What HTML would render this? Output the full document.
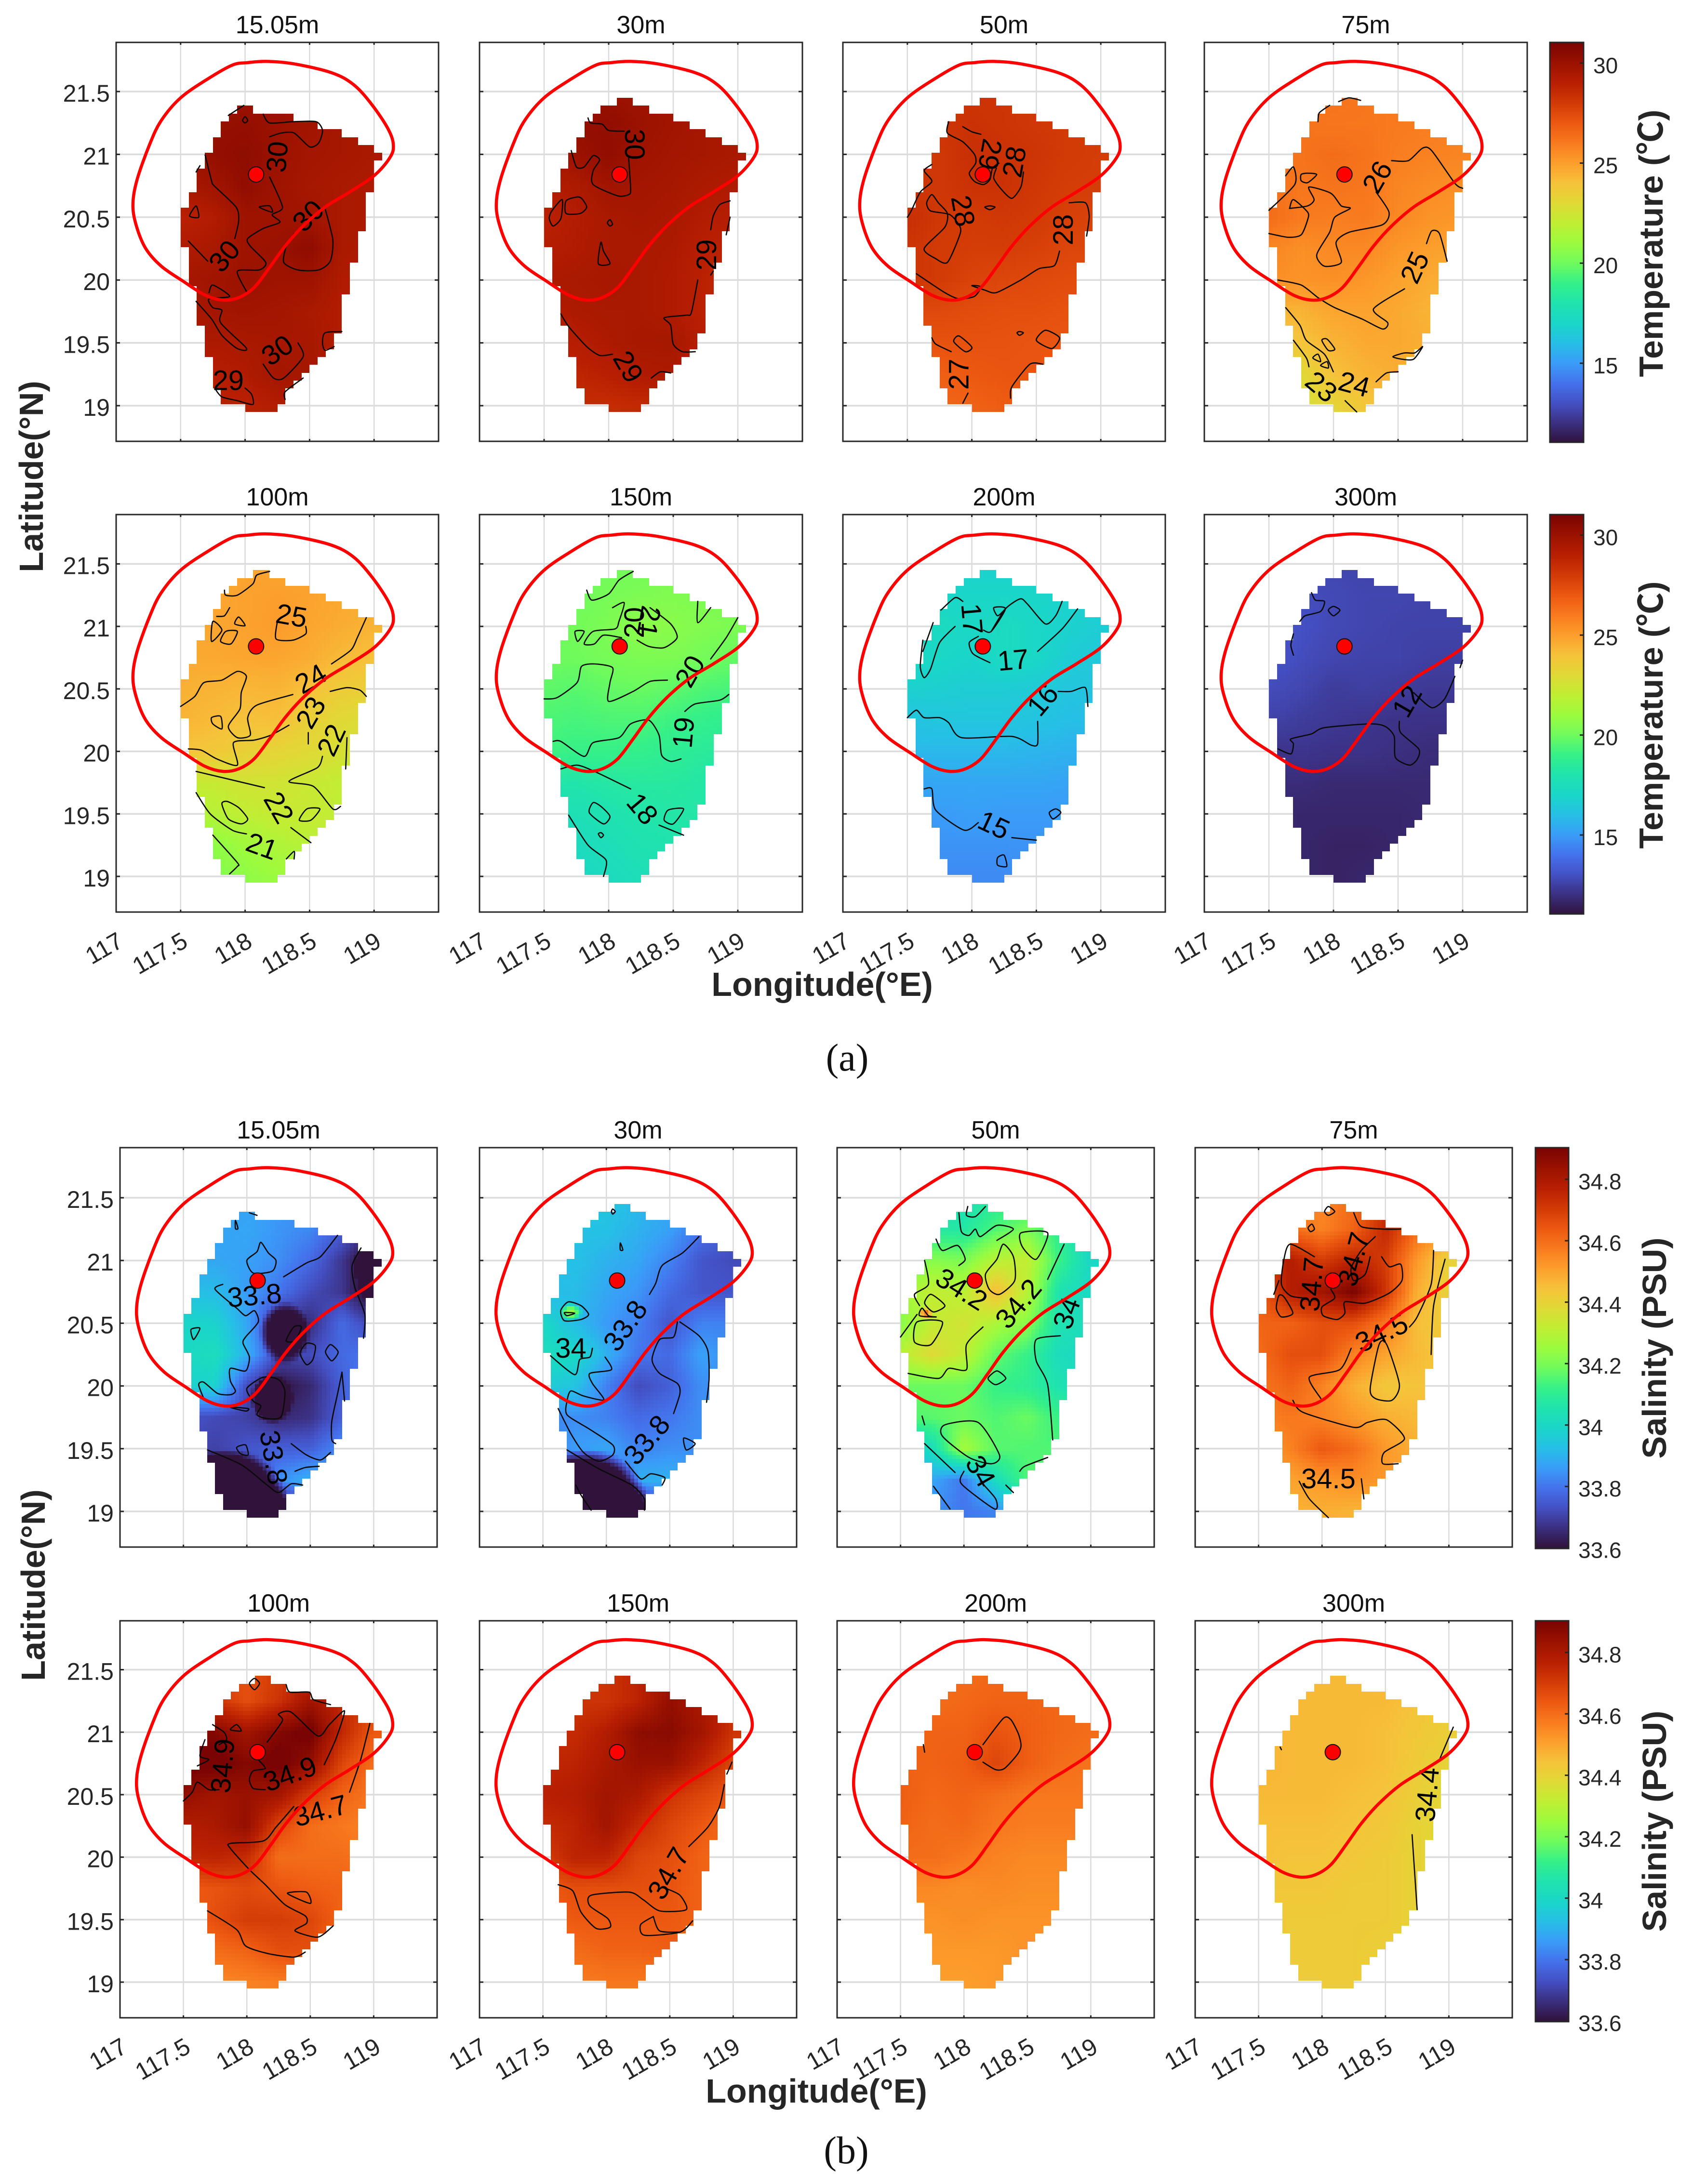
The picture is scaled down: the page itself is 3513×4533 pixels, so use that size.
<!DOCTYPE html>
<html lang="en">
<head>
<meta charset="utf-8">
<title>Temperature and salinity maps by depth</title>
<style>
html,body{margin:0;padding:0;background:#fff;}
svg{display:block;font-family:"Liberation Sans","Noto Sans CJK SC",sans-serif;}
</style>
</head>
<body>
<svg id="figure" xmlns="http://www.w3.org/2000/svg" width="3513" height="4533" viewBox="0 0 3513 4533">
<rect width="3513" height="4533" fill="#fff"/>
<text transform="translate(89 989) rotate(-90)" text-anchor="middle" font-size="70" font-weight="bold" fill="#262626">Latitude(°N)</text>
<text x="1706" y="2067" text-anchor="middle" font-size="70" font-weight="bold" fill="#262626">Longitude(°E)</text>
<text x="1758" y="2222" text-anchor="middle" font-size="80" fill="#111" style="font-family:'Liberation Serif',serif">(a)</text>
<text transform="translate(93 3290) rotate(-90)" text-anchor="middle" font-size="70" font-weight="bold" fill="#262626">Latitude(°N)</text>
<text x="1694" y="4364" text-anchor="middle" font-size="70" font-weight="bold" fill="#262626">Longitude(°E)</text>
<text x="1756" y="4490" text-anchor="middle" font-size="80" fill="#111" style="font-family:'Liberation Serif',serif">(b)</text>
<text transform="translate(3450 505) rotate(-90)" text-anchor="middle" font-size="70" font-weight="bold" fill="#262626">Temperature (℃)</text>
<text transform="translate(3450 1484) rotate(-90)" text-anchor="middle" font-size="70" font-weight="bold" fill="#262626">Temperature (℃)</text>
<text transform="translate(3457 2798) rotate(-90)" text-anchor="middle" font-size="70" font-weight="bold" fill="#262626">Salinity (PSU)</text>
<text transform="translate(3457 3780) rotate(-90)" text-anchor="middle" font-size="70" font-weight="bold" fill="#262626">Salinity (PSU)</text>
</svg>
<script>
// ---------- shared axis data ----------
const xTicks = [117, 117.5, 118, 118.5, 119];
const yTicks = [19, 19.5, 20, 20.5, 21, 21.5];
const depthLabels = ['15.05m','30m','50m','75m','100m','150m','200m','300m'];
const fieldLons = [117.5,117.75,118,118.25,118.5,118.75,119];
const fieldLats = [21.5,21.25,21,20.75,20.5,20.25,20,19.75,19.5,19.25,19];
const stationLon = 118.085;
const stationLat = 20.84;
const tempCbarTicks = [15,20,25,30];
const tempCbarLabels = ['15','20','25','30'];
const salCbarTicks = [33.6,33.8,34,34.2,34.4,34.6,34.8];
const salCbarLabels = ['33.6','33.8','34','34.2','34.4','34.6','34.8'];
const boundaryLons = [118.167,118.38,118.67,118.84,118.98,119.11,119.15,119.12,119.0,118.81,118.62,118.45,118.31,118.19,118.07,117.95,117.83,117.69,117.52,117.35,117.23,117.16,117.13,117.16,117.26,117.35,117.5,117.71,117.9,118.02];
const boundaryLats = [21.74,21.72,21.65,21.556,21.40,21.20,21.07,20.97,20.83,20.70,20.58,20.43,20.27,20.10,19.94,19.86,19.84,19.88,19.99,20.11,20.25,20.42,20.59,20.79,21.08,21.27,21.45,21.60,21.71,21.73];
// valid-data mask: [first, last) column per row of the 1/16 degree grid
const maskRows = [[9,11],[7,13],[6,16],[5,18],[5,20],[4,22],[4,24],[3,25],[3,24],[2,24],[2,24],[2,24],[1,23],[1,23],[0,23],[0,23],[0,23],[0,22],[0,22],[1,22],[1,22],[1,21],[1,21],[1,21],[2,21],[2,20],[2,20],[2,20],[2,20],[3,20],[3,19],[3,19],[3,18],[4,17],[4,16],[4,15],[4,14],[5,13],[5,13],[8,12]];
const maskRowsShallow = [[0,0],[7,9],[6,14],[5,17],[5,20],[4,22],[4,24],[3,25],[3,24],[2,24],[2,24],[2,24],[1,23],[1,23],[0,23],[0,23],[0,23],[0,22],[0,22],[1,22],[1,22],[1,21],[1,21],[1,21],[2,21],[2,20],[2,20],[2,20],[2,20],[3,20],[3,19],[3,19],[3,18],[4,17],[4,16],[4,15],[4,14],[5,13],[5,13],[8,12]];
const colormapPositions = [0,.05,.1,.15,.2,.25,.3,.35,.4,.45,.5,.55,.6,.65,.7,.75,.8,.85,.9,.95,1];
const colormapColors = ['#30123b','#3b2f80','#4450c4','#4472ec','#3a9cf8','#26bfe6','#1ad6c8','#1fe3ae','#35f088','#6ffb5c','#9cfb3e','#c0ee33','#e0d935','#f6c23a','#fc9e2c','#f87a1e','#ec5811','#d23a06','#b81f02','#9b1200','#7a0403'];

// ---------- temperature fields (deg C), rows fieldLats, columns fieldLons ----------
const tempField15 = [
[30,30,30,30,29.8,29.6,29.5],[30,30.1,30.2,30,29.8,29.6,29.5],[29.9,30.2,30.4,30,29.7,29.6,29.5],[29.6,29.8,30.3,29.9,29.6,29.5,29.4],[28.9,29.2,29.9,29.9,29.8,29.5,29.4],[29.3,29.5,29.9,30,30.4,29.5,29.3],[29.6,29.8,30,29.9,29.9,29.3,29.2],[29.5,29.7,29.8,29.7,29.5,29.2,29.1],[29.5,29.4,29.5,29.6,29.6,29.2,29],[29.3,29.1,29.3,29.7,29.6,29.3,29.2],[29.2,29,28.9,29.2,29.4,29.3,29.2]];
const tempField30 = [
[30,30,30,29.9,29.7,29.6,29.5],[30,30.2,30.3,30,29.8,29.6,29.5],[29.6,30,30.3,29.9,29.7,29.6,29.5],[29.2,29.4,29.8,29.7,29.6,29.4,29.3],[28.9,29.2,29.5,29.6,29.5,29.2,29.1],[29.1,29.3,29.5,29.5,29.4,29,28.8],[29.4,29.5,29.6,29.5,29.3,28.9,28.7],[29.2,29.4,29.5,29.5,29.3,28.9,28.7],[28.9,29.1,29.4,29.6,29.6,29,28.8],[28.8,28.8,29,29.3,29.4,28.9,28.8],[28.6,28.5,28.5,28.6,28.7,28.7,28.7]];
const tempField50 = [
[28,28,28.2,28.2,28.1,28,28],[28,28.2,28.3,28.2,28.1,28,27.9],[28,28.1,28.4,28.3,28.2,28,27.9],[28.2,28.1,28.3,28.3,28.1,27.9,27.9],[28.4,28.1,28,28.1,28,27.8,27.7],[28.2,28,27.9,27.9,27.8,27.6,27.6],[28.2,28,27.7,27.6,27.5,27.4,27.4],[27.5,27.5,27.4,27.3,27.3,27.2,27.2],[27.1,27.2,27.2,27.2,27.1,27.1,27.1],[26.9,26.8,27,27.1,27.1,27,27],[26.7,26.6,26.7,26.9,27,27,27]];
const tempField75 = [
[26.2,26.2,26.2,26.1,26,25.9,25.8],[26.1,26.2,26.1,26.1,26,25.9,25.8],[26,26.2,26.4,26.2,25.9,25.8,25.7],[26.3,26.1,26.2,26.1,25.7,25.5,25.4],[26.4,26,25.9,26,25.6,25.3,25.2],[25.7,25.4,25.6,25.6,25.2,25,24.8],[25.4,25.3,25.4,25.2,24.9,24.6,24.5],[24.4,24.4,24.8,24.9,24.7,24.4,24.3],[23.6,23.9,24.4,24.7,24.7,24.5,24.4],[22.8,23,24,24.4,24.6,24.5,24.4],[22.5,22.7,23.2,23.8,24.2,24.4,24.4]];
const tempField100 = [
[24.6,24.7,24.8,24.8,24.8,24.6,24.5],[24.6,24.8,24.9,25,24.9,24.7,24.5],[24.5,24.8,24.9,25.1,24.8,24.6,24.4],[24.7,24.7,24.8,24.8,24.6,24.2,24],[24.5,24.4,24.3,24.4,24,23.6,23.4],[24.4,24.2,24,24.1,23.4,23,22.8],[24,23.8,23.4,23.2,23,22.7,22.5],[22.2,22.2,22.5,22.5,22.3,22,22],[21.5,21.7,22,22.2,22.2,22,22],[20.6,20.7,21.1,21.5,21.8,22,22],[20.3,20.4,20.7,21,21.4,21.8,22]];
const tempField150 = [
[19.8,19.9,20,20.1,20.2,20.2,20.2],[19.8,20,20.2,20.3,20.4,20.3,20.2],[19.9,20.1,20.3,20.7,20.6,20.4,20.3],[20,20,20.2,20.3,20.3,20.1,19.8],[19.7,19.6,19.8,19.9,19.7,19.4,19.3],[19.4,19.3,19.4,19.4,19.1,18.9,18.7],[19.2,19,19,18.9,18.7,18.5,18.4],[18.2,18.1,18.3,18.4,18.4,18.2,18.1],[17.6,17.7,17.9,18.1,18.2,18.2,18.1],[17.2,17.4,17.6,17.9,18,18,18],[17,17.1,17.4,17.6,17.8,17.9,18]];
const tempField200 = [
[16.6,16.7,16.8,16.8,16.7,16.6,16.5],[16.8,17,17,17,17,16.8,16.6],[17.1,17.3,17.1,17.3,17.1,16.8,16.6],[17.2,17.1,16.9,17.3,17.1,16.6,16.4],[16.8,16.7,16.6,16.6,16.5,16.3,16.2],[16.2,16.3,16.3,16.3,16.2,16,15.9],[15.8,15.8,15.8,15.8,15.7,15.6,15.6],[15.2,15.3,15.3,15.3,15.3,15.2,15.2],[14.9,15,15.1,15,15,15,15],[14.7,14.8,14.8,14.8,14.8,14.8,14.8],[14.5,14.6,14.6,14.6,14.7,14.7,14.7]];
const tempField300 = [
[12.7,12.7,12.7,12.6,12.6,12.6,12.6],[12.8,12.9,12.8,12.7,12.7,12.6,12.6],[13.2,13,12.8,12.7,12.6,12.6,12.6],[13.1,12.9,12.7,12.6,12.6,12.5,12.5],[12.9,12.7,12.4,12.5,12.4,12.3,12.3],[12.6,12.4,12.3,12.2,12.1,12.1,12.1],[12.1,12.2,12.1,12.1,12,11.9,11.9],[11.9,11.9,11.8,11.8,11.8,11.8,11.8],[11.8,11.7,11.7,11.7,11.7,11.8,11.8],[11.7,11.7,11.6,11.6,11.7,11.7,11.7],[11.7,11.7,11.6,11.7,11.7,11.7,11.7]];

// ---------- salinity fields (PSU) ----------
const salField15 = [
[33.85,33.86,33.87,33.86,33.84,33.8,33.7],[33.87,33.87,33.88,33.85,33.83,33.76,33.65],[33.88,33.88,33.87,33.84,33.78,33.68,33.55],[33.93,33.92,33.86,33.8,33.72,33.68,33.55],[33.99,33.98,33.88,33.66,33.66,33.78,33.7],[34,34.02,33.9,33.72,33.72,33.78,33.8],[33.98,33.98,33.72,33.6,33.65,33.76,33.85],[33.74,33.72,33.7,33.65,33.67,33.76,33.86],[33.72,33.7,33.74,33.76,33.76,33.84,33.86],[33.55,33.56,33.68,33.84,33.9,33.86,33.86],[33.55,33.55,33.55,33.56,33.7,33.8,33.8]];
const salField30 = [
[33.94,33.94,33.94,33.92,33.88,33.84,33.8],[33.93,33.93,33.93,33.9,33.87,33.8,33.75],[33.92,33.93,33.9,33.88,33.82,33.74,33.72],[33.92,33.92,33.88,33.85,33.78,33.74,33.74],[34,33.92,33.86,33.82,33.74,33.82,33.82],[34.02,34,33.9,33.8,33.78,33.87,33.84],[33.97,33.94,33.82,33.72,33.76,33.84,33.84],[33.82,33.84,33.82,33.78,33.8,33.84,33.84],[33.82,33.86,33.88,33.82,33.84,33.84,33.84],[33.58,33.62,33.74,33.9,33.9,33.88,33.86],[33.55,33.55,33.56,33.56,33.72,33.84,33.84]];
const salField50 = [
[34.05,34.05,34.03,34.08,34.1,34.05,34],[34.08,34.08,34.07,34.15,34.2,34.1,34],[34.15,34.22,34.2,34.3,34.32,34.12,34],[34.25,34.32,34.3,34.46,34.3,34.05,34],[34.22,34.32,34.35,34.28,34.22,34.05,34.02],[34.3,34.38,34.32,34.17,34.12,34.02,34],[34.18,34.18,34.18,34.12,34.1,34.05,34],[34.15,34.16,34.18,34.15,34.18,34.12,34.1],[33.95,34.02,34.27,34.16,34.15,34.15,34.15],[33.9,33.88,33.8,34.02,34.15,34.15,34.15],[33.85,33.84,33.8,33.82,34,34.1,34.1]];
const salField75 = [
[34.55,34.55,34.55,34.6,34.7,34.6,34.5],[34.6,34.6,34.56,34.62,34.75,34.6,34.5],[34.7,34.78,34.7,34.76,34.7,34.52,34.4],[34.62,34.78,34.82,34.9,34.72,34.48,34.4],[34.62,34.62,34.66,34.66,34.58,34.45,34.42],[34.6,34.66,34.66,34.56,34.5,34.46,34.42],[34.58,34.62,34.56,34.48,34.43,34.44,34.44],[34.56,34.58,34.56,34.52,34.48,34.46,34.46],[34.5,34.56,34.64,34.6,34.52,34.48,34.48],[34.5,34.5,34.52,34.54,34.52,34.5,34.5],[34.47,34.47,34.48,34.47,34.48,34.5,34.5]];
const salField100 = [
[34.65,34.65,34.66,34.7,34.75,34.7,34.68],[34.75,34.72,34.66,34.72,34.82,34.75,34.7],[34.88,34.88,34.82,34.88,34.92,34.75,34.64],[34.92,34.92,34.88,34.92,34.85,34.68,34.6],[34.85,34.82,34.84,34.82,34.7,34.62,34.58],[34.78,34.8,34.85,34.68,34.6,34.58,34.56],[34.75,34.76,34.74,34.6,34.6,34.6,34.58],[34.63,34.65,34.67,34.65,34.63,34.62,34.6],[34.62,34.66,34.7,34.7,34.68,34.62,34.6],[34.58,34.6,34.62,34.66,34.66,34.62,34.6],[34.55,34.55,34.56,34.57,34.58,34.6,34.6]];
const salField150 = [
[34.7,34.7,34.72,34.76,34.8,34.76,34.7],[34.72,34.72,34.72,34.76,34.85,34.8,34.75],[34.74,34.74,34.78,34.86,34.87,34.82,34.72],[34.75,34.76,34.8,34.84,34.84,34.76,34.68],[34.77,34.78,34.82,34.8,34.72,34.68,34.64],[34.74,34.76,34.82,34.74,34.68,34.64,34.6],[34.7,34.76,34.76,34.68,34.66,34.62,34.6],[34.63,34.66,34.66,34.66,34.65,34.62,34.6],[34.62,34.64,34.64,34.64,34.64,34.62,34.6],[34.58,34.6,34.62,34.62,34.63,34.62,34.6],[34.56,34.57,34.58,34.58,34.58,34.6,34.6]];
const salField200 = [
[34.6,34.6,34.6,34.61,34.61,34.6,34.6],[34.6,34.6,34.61,34.62,34.62,34.61,34.6],[34.61,34.62,34.62,34.65,34.63,34.61,34.6],[34.62,34.62,34.63,34.68,34.63,34.6,34.59],[34.63,34.61,34.62,34.6,34.58,34.58,34.58],[34.62,34.6,34.61,34.58,34.57,34.57,34.57],[34.6,34.6,34.58,34.56,34.55,34.55,34.55],[34.55,34.55,34.54,34.55,34.54,34.54,34.54],[34.53,34.53,34.54,34.53,34.53,34.53,34.53],[34.52,34.52,34.52,34.52,34.53,34.53,34.53],[34.51,34.51,34.51,34.52,34.52,34.52,34.52]];
const salField300 = [
[34.46,34.46,34.46,34.46,34.45,34.44,34.42],[34.47,34.46,34.46,34.46,34.46,34.44,34.42],[34.47,34.46,34.46,34.46,34.45,34.43,34.41],[34.47,34.46,34.46,34.46,34.45,34.42,34.4],[34.46,34.46,34.46,34.45,34.44,34.41,34.38],[34.45,34.45,34.45,34.44,34.43,34.4,34.38],[34.45,34.44,34.44,34.43,34.42,34.4,34.39],[34.43,34.43,34.43,34.42,34.42,34.4,34.39],[34.43,34.42,34.42,34.42,34.42,34.4,34.39],[34.42,34.42,34.42,34.42,34.41,34.4,34.4],[34.42,34.42,34.42,34.42,34.41,34.4,34.4]];

// small local extremes: lon, lat, lon radius, lat radius, peak value
const salSpots15 = [[118.3,20.42,.2,.25,33.45],[118.2,19.9,.17,.2,33.4],[118.97,20.95,.12,.28,33.35],[117.85,19,.5,.5,33.2]];
const salSpots30 = [[117.72,20.59,.09,.07,34.25],[117.85,19,.5,.5,33.2]];
const salSpots50 = [[117.7,20.58,.05,.05,34.6],[117.6,20.85,.04,.07,34.0]];
const noSpots = [];

// ---------- contour traces: flat lon,lat lists ----------
const tempContours15 = [
[117.69,20.995,117.74,20.79,117.76,20.75,117.93,20.58,117.95,20.47,117.92,20.33],
[118.14,21.32,118.19,21.25,118.37,21.26,118.55,21.26,118.6,21.19,118.57,21.09,118.5,21.06,118.38,21.17,118.28,21.17,118.19,21.14],
[118.19,20.82,118.29,20.58,118.21,20.52,118.27,20.46,118.14,20.41,118.02,20.33,118.04,20.27,118.16,20.14,118.11,20.08,117.94,20.07,118.01,19.91],
[118.62,20.57,118.68,20.32,118.66,20.15,118.57,20.08,118.41,20.08,118.3,20.14,118.32,20.27,118.38,20.37],
[117.56,20.31,117.71,20.15],
[117.72,19.9,117.75,19.96,117.88,19.87,117.72,19.85,117.75,19.78,117.82,19.76,117.81,19.66,118,19.47,118,19.44,117.93,19.46,117.82,19.56,117.74,19.69,117.62,19.83],
[118.41,19.5,118.45,19.39,118.3,19.22,118.22,19.22,118.14,19.33],
[118.75,19.59,118.62,19.58,118.6,19.5,118.62,19.44,118.69,19.47],
[118.31,19.05,118.31,19.11,118.45,19.22],
[117.77,19.13,117.82,19.07,117.94,19.04,118.06,19.01,118.05,19.09,118,19.14],
[117.57,20.51,117.62,20.59,117.64,20.5,117.57,20.51],
[118.11,20.58,118.19,20.59,118.21,20.54,118.11,20.58],
[117.98,21.27,118,21.3,118.02,21.27,118,21.25,117.98,21.27],
[117.87,21.31,117.99,21.39],
[117.62,20.86,117.65,20.91]];
const tempLabels15 = [['30',118.25,20.98,-85],['30',118.49,20.51,-45],['30',117.84,20.19,-50],['30',118.25,19.44,-35],['29',117.87,19.2,0]];

const tempContours30 = [
[117.84,21.29,117.86,21.25,117.95,21.24,118,21.19,118.12,21.185],
[118.155,20.97,118.17,20.72,118.155,20.68,118.07,20.67,117.88,20.76,117.88,20.87,117.93,20.955,117.88,20.99,117.81,20.9,117.75,20.9,117.71,21.03],
[117.64,20.64,117.56,20.55,117.54,20.49,117.57,20.43,117.63,20.49,117.64,20.64],
[117.75,20.66,117.67,20.63,117.67,20.53,117.78,20.53,117.83,20.58,117.79,20.65,117.75,20.66],
[117.99,20.455,118.01,20.48,118.03,20.445,118.01,20.43,117.99,20.455],
[117.94,20.3,117.92,20.13,118.01,20.13,117.96,20.23,117.94,20.3],
[118.94,20.63,118.86,20.6,118.81,20.51,118.79,20.4],
[118.94,20.5,118.91,20.36],
[118.81,20.07,118.79,20.04],
[118.69,20,118.64,19.74,118.6,19.72,118.43,19.7,118.48,19.64,118.5,19.49,118.57,19.43,118.67,19.43],
[117.63,19.73,117.69,19.63,117.83,19.47,117.93,19.4,118.03,19.41],
[118.33,19.22,118.4,19.27,118.48,19.26]];
const tempLabels30 = [['30',118.2,21.08,90],['29',118.76,20.2,-90],['29',118.15,19.31,60]];

const tempContours50 = [
[117.82,21.26,117.81,21.17,117.93,21.1,118.02,21,118.03,20.93,117.98,20.85,118.02,20.785,118.09,20.76,118.14,20.8,118.16,20.89,118.21,20.93],
[117.93,21.22,118,21.18,118.07,21.16],
[118.19,20.89,118.17,20.81,118.23,20.72,118.31,20.65,118.38,20.74,118.4,20.86],
[117.69,20.92,117.63,20.87,117.69,20.785,117.6,20.7,117.53,20.55,117.5,20.5],
[117.69,20.68,117.65,20.615,117.68,20.55,117.83,20.52,117.91,20.42,117.9,20.34,117.81,20.14,117.72,20.17,117.63,20.25,117.79,20.42,117.81,20.53,117.74,20.615,117.69,20.68],
[118.755,20.615,118.88,20.615,118.91,20.51,118.89,20.35],
[118.68,20.23,118.64,20.115,118.52,20.09,118.38,20,118.19,19.9,118.1,19.92,118,19.955,118.07,19.945,118.02,19.87,117.9,19.85,117.79,19.9,117.57,20.05],
[118.1,20.58,118.14,20.59,118.18,20.58,118.14,20.56,118.1,20.58],
[117.69,19.54,117.72,19.49,117.84,19.43],
[117.86,19.51,117.9,19.555,118,19.465,117.95,19.43,117.86,19.51],
[118.37,19.59,118.4,19.58,118.37,19.56,118.35,19.58,118.37,19.59],
[118.57,19.6,118.68,19.54,118.62,19.455,118.5,19.52,118.57,19.6],
[118.55,19.33,118.45,19.33,118.31,19.15,118.3,19.06],
[117.97,19.1,117.93,19.02]];
const tempLabels50 = [['28',118.33,20.94,-80],['29',118.14,21,100],['28',117.93,20.55,80],['28',118.71,20.4,-90],['27',117.9,19.25,-90]];

const tempContours75 = [
[117.5,20.555,117.7,20.76,117.69,20.9,117.63,20.83],
[117.66,20.57,117.69,20.64,117.8,20.54,117.8,20.48,117.75,20.36,117.65,20.34,117.5,20.37],
[117.66,20.57,117.8,20.59,117.85,20.64,117.81,20.74,117.98,20.69,118.06,20.59,118.13,20.57,118.01,20.5,117.97,20.38,117.87,20.2,117.93,20.11,118.06,20.14,118.02,20.3,118.12,20.38,118.38,20.44,118.43,20.54,118.33,20.7],
[118.45,20.95,118.58,20.95,118.69,21.05,118.76,21.03,118.94,20.77,119,20.73],
[117.75,20.84,117.8,20.85,117.87,20.84,117.8,20.775,117.75,20.79,117.75,20.84],
[118.72,20.29,118.76,20.39,118.82,20.37,118.88,20.15],
[118.55,19.93,118.31,19.77,118.42,19.66,118.38,19.61,118.22,19.69,118.01,19.78,117.88,19.86,117.75,19.96,117.57,20],
[117.63,19.78,117.74,19.64,117.79,19.52,117.93,19.41,117.999,19.27],
[117.69,19.52,117.79,19.38,117.81,19.31],
[117.91,19.52,117.95,19.53,118.01,19.45,117.96,19.44,117.91,19.52],
[117.84,19.38,117.88,19.41,117.9,19.35,117.84,19.38],
[117.9,19.32,117.95,19.35,117.96,19.3,117.9,19.32],
[118.46,19.39,118.55,19.42,118.63,19.42,118.69,19.47,118.62,19.37,118.53,19.37,118.46,19.39],
[118.33,19.19,118.41,19.26,118.5,19.27],
[118.09,19.04,118.18,18.95],
[118.04,21.42,118.12,21.45,118.21,21.43],
[117.88,21.26,117.89,21.33,117.97,21.39]];
const tempLabels75 = [['26',118.34,20.82,-60],['25',118.63,20.1,-65],['23',117.905,19.15,40],['24',118.16,19.17,15]];

const tempContours100 = [
[117.84,21.29,117.85,21.25,117.94,21.25,118.06,21.34,118.09,21.41,118.19,21.44],
[117.78,21.08,117.84,21.085,117.88,21.15],
[117.92,21.02,117.95,21.075,118,21.006,117.92,21.02],
[117.75,21.04,117.82,20.97,117.74,20.88,117.75,21.04],
[117.85,20.96,117.94,20.96,117.89,20.86,117.81,20.88,117.85,20.96],
[118.25,21.04,118.24,20.9,118.37,20.89,118.47,20.94,118.47,21],
[118.94,21.07,118.87,20.91,118.82,20.81,118.67,20.7],
[117.5,20.36,117.61,20.44,117.68,20.55,117.82,20.57,117.94,20.64,118.01,20.6,117.97,20.47,117.96,20.34,117.87,20.2,117.94,20.11,118.04,20.13,118.02,20.27,118.09,20.37,118.37,20.455],
[117.74,20.27,117.81,20.28,117.82,20.18,117.75,20.22,117.74,20.27],
[118.34,20.21,118.2,20.13,118.07,20.09,117.91,20.07,117.94,19.89,117.78,19.94,117.66,20.01,117.56,20.02],
[118.66,20.48,118.79,20.51,118.89,20.49,118.94,20.44],
[118.49,20.15,118.49,20.06],
[118.79,20.11,118.78,19.86],
[118.6,19.96,118.56,19.87,118.34,19.76,118.53,19.72,118.68,19.54,118.74,19.56],
[117.62,19.84,118.15,19.71],
[117.62,19.67,117.73,19.5,117.9,19.37,118.01,19.34],
[117.86,19.6,117.82,19.58,117.87,19.46,117.97,19.42,118.02,19.46,117.95,19.55,117.86,19.6],
[118.48,19.54,118.58,19.54,118.51,19.45,118.42,19.45,118.48,19.54],
[118.355,19.39,118.51,19.27],
[117.75,19.33,117.94,19.11,117.94,19.08,117.88,19.02],
[118.32,19.14,118.38,19.2,118.38,19.14]];
const tempLabels100 = [['25',118.36,21.085,10],['24',118.51,20.58,-30],['23',118.51,20.31,-60],['22',118.67,20.09,-65],['22',118.26,19.55,60],['21',118.13,19.24,20]];

const tempContours150 = [
[117.83,21.29,117.87,21.21,118,21.26,118.08,21.37,118.19,21.44],
[118.03,21.15,118.12,21.19,118.08,21.04,118.05,20.98,117.88,20.96,117.81,20.86,117.89,20.86,117.96,20.93,118.1,20.91],
[117.74,20.96,117.81,20.96,117.76,20.88,117.74,20.96],
[118.32,21.15,118.48,21.02,118.53,20.91,118.43,20.83,118.31,20.84,118.22,20.89],
[118.69,21.2,118.69,21.03,118.79,21.15],
[119,21.07,118.91,20.91,118.79,20.74],
[117.5,20.42,117.6,20.43,117.755,20.55,117.79,20.68,117.89,20.7,118.03,20.67,118.01,20.55,118,20.4,118.19,20.48,118.32,20.56,118.455,20.57],
[118.59,20.32,118.67,20.38,118.86,20.41,118.93,20.455],
[117.57,20.08,117.63,20.08,117.81,19.96,117.88,20.07,118.08,20.11,118.17,20.22,118.31,20.25,118.39,20.13,118.41,19.97,118.48,19.92,118.56,19.94],
[117.63,19.86,117.755,19.89,117.89,19.84,118.17,19.7],
[117.88,19.59,117.85,19.51,117.96,19.42,118.01,19.48,117.94,19.56,117.88,19.59],
[118.46,19.53,118.58,19.54,118.5,19.42,118.43,19.45,118.46,19.53],
[118.39,19.41,118.58,19.33],
[117.92,19.34,117.94,19.35,117.96,19.33,117.94,19.31,117.92,19.34],
[117.69,19.49,117.84,19.25,117.98,19.13,117.96,19]];
const tempLabels150 = [['20',118.2,21.03,-90],['21',118.31,21.04,100],['20',118.63,20.64,-60],['19',118.58,20.15,-85],['18',118.26,19.54,50]];

const tempContours200 = [
[117.76,21.13,117.87,21.23,117.93,21.2],
[117.7,21.03,117.62,20.8],
[117.87,21,117.75,20.87,117.68,20.66,117.63,20.59,117.6,20.68,117.62,20.89],
[118.09,20.97,118.15,20.96,118.26,21.14,118.17,21.15,118.2,21.085,118.26,21.14],
[118.15,20.96,118.26,21.14,118.375,21.22,118.43,21.18,118.57,21.02,118.65,21.085,118.7,21.2],
[118.82,21.14,118.7,20.98,118.51,20.8],
[118.05,20.92,117.98,20.87,118.01,20.78,118.14,20.71],
[117.5,20.27,117.57,20.33,117.63,20.27,117.75,20.27,117.82,20.23,117.92,20.11,118.31,20.12,118.46,20.05,118.51,20.06,118.51,20.24],
[118.67,20.48,118.77,20.48,118.88,20.51,118.9,20.36],
[117.63,19.7,117.69,19.7,117.72,19.53,117.94,19.37,118.05,19.43],
[118.31,19.31,118.5,19.29],
[118.65,19.54,118.69,19.51,118.63,19.46,118.6,19.51,118.65,19.54],
[118.25,19.17,118.27,19.08,118.2,19.09,118.2,19.15,118.25,19.17]];
const tempLabels200 = [['17',118,21.06,85],['17',118.32,20.73,-5],['16',118.55,20.41,-50],['15',118.17,19.41,25]];

const tempContours300 = [
[117.83,21.27,117.86,21.21,117.93,21.2,117.9,21.12,117.78,21.085,117.74,21.04],
[117.96,21.13,118,21.16,118.05,21.13,118,21.085,117.96,21.13],
[117.69,20.94,117.67,20.85,117.69,20.77],
[119,20.73,118.98,20.67],
[118.94,20.6,118.86,20.42,118.76,20.35,118.62,20.47],
[117.57,20.02,117.67,19.98,117.69,20.06,117.67,20.1,117.83,20.14,117.93,20.19,118.28,20.22,118.4,20.2,118.47,20.12,118.48,19.95,118.59,19.89,118.65,19.94,118.66,20.02,118.52,20.15,118.51,20.24]];
const tempLabels300 = [['12',118.57,20.4,-60]];

const salContours15 = [
[118.02,21.38,118.08,21.36],
[117.91,21.32,117.93,21.255,117.91,21.255,117.91,21.32],
[118.11,21.145,118.17,21.06,118.23,21,118.2,20.915,118.05,20.9,118,21,118.08,21.07,118.11,21.145],
[118.715,21.2,118.58,21.03,118.47,20.98,118.29,20.87],
[118.9,21.1,118.83,20.96,118.85,20.79,118.93,20.57,118.92,20.38],
[117.81,20.81,117.75,20.77,117.92,20.62,117.99,20.56,118.06,20.6,118.09,20.51,117.99,20.39,117.97,20.34,118.02,20.23,117.99,20.12,117.87,20.14,117.87,20.04,117.91,19.96,117.87,19.93,117.77,19.94,117.66,20.03,117.62,20.01,117.66,19.9],
[117.56,20.45,117.63,20.46,117.58,20.37,117.56,20.45],
[118.37,20.47,118.43,20.47,118.38,20.36,118.31,20.36,118.37,20.47],
[118.47,20.34,118.54,20.32,118.52,20.21,118.47,20.17,118.42,20.26,118.47,20.34],
[118.66,20.33,118.72,20.27,118.67,20.2,118.62,20.27,118.66,20.33],
[118.13,20.07,118.25,20.05,118.3,19.955,118.27,19.755,118.16,19.74,118.08,19.77,118.11,19.84,118.05,19.88,118,19.98,118.13,20.07],
[117.87,19.83,118.01,19.82,117.99,19.8,117.87,19.83],
[118.75,20.11,118.72,19.96,118.67,19.72,118.67,19.57,118.7,19.54],
[118.75,20.11,118.77,19.88],
[117.92,19.51,117.99,19.53,118.01,19.45,117.95,19.46,117.92,19.51],
[118.35,19.54,118.47,19.45,118.58,19.41,118.66,19.47],
[118.38,19.32,118.46,19.35,118.57,19.36],
[117.69,19.49,117.96,19.37,118.16,19.21,118.25,19.15,118.35,19.22,118.44,19.21]];
const salLabels15 = [['33.8',118.06,20.72,-5],['33.8',118.21,19.43,80]];

const salContours30 = [
[118.04,21.39,118.05,21.41,118.07,21.39,118.05,21.37,118.04,21.39],
[118.11,21.14,118.13,21.085,118.11,21.085,118.11,21.14],
[118.73,21.19,118.6,21.06,118.44,20.96,118.39,20.82,118.34,20.73],
[117.7,20.67,117.8,20.64,117.86,20.57,117.8,20.53,117.67,20.52,117.64,20.6,117.7,20.67],
[117.67,20.585,117.75,20.58,117.69,20.56,117.67,20.585],
[117.56,20.24,117.75,20.09,117.79,20.21,117.87,20.23,117.89,20.3],
[117.99,20.23,118.04,20.13,117.87,20.1,117.89,20.02,117.98,19.89,117.82,19.92,117.72,19.96,117.69,19.88,117.69,19.77,117.86,19.66,118.05,19.53,118.05,19.45,117.94,19.4,117.82,19.47,117.72,19.62,117.62,19.82],
[118.56,20.51,118.53,20.39,118.42,20.37,118.36,20.21,118.42,20.1,118.56,20.02,118.58,19.94,118.53,19.78],
[118.58,20.51,118.73,20.4,118.8,20.28,118.81,20.06,118.79,19.87],
[118.61,19.585,118.7,19.54,118.63,19.49,118.61,19.585],
[118.15,19.4,118.27,19.26,118.35,19.3,118.46,19.27,118.44,19.21],
[117.69,19.49,117.94,19.34,118.2,19.21,118.3,19.1,118.3,19.01],
[117.76,19.21,117.8,19.13,117.88,19.01]];
const salLabels30 = [['33.8',118.15,20.48,-55],['34',117.72,20.3,0],['33.8',118.32,19.57,-50]];

const salContours50 = [
[118.03,21.43,118.02,21.36,118.09,21.35,118.17,21.43],
[117.96,21.38,117.98,21.23,118.04,21.2,118.09,21.25,118.13,21.19,118.26,21.28,118.39,21.25,118.26,21.16],
[118.31,21.13,118.39,21.03,118.4,20.84,118.28,20.73,118.2,20.77,118.17,20.89,118.26,21.01,118.31,21.13],
[118.45,21.22,118.66,21.22,118.57,21.01,118.46,21.11,118.45,21.22],
[118.79,21.13,118.66,20.85],
[117.78,21.17,117.83,21.08,117.95,21.12,118.01,21.01,117.96,20.96],
[117.69,21,117.72,20.81,117.61,20.73,117.65,20.64],
[117.74,20.73,117.85,20.64,117.76,20.59,117.69,20.66,117.74,20.73],
[117.67,20.62,117.72,20.56,117.78,20.55,117.65,20.56,117.67,20.62],
[117.63,20.51,117.83,20.51,117.74,20.33,117.61,20.35,117.63,20.51],
[117.5,20.39,117.63,20.57],
[118.15,20.47,118.02,20.33,118.02,20.13,117.88,20.14,117.8,20.06,117.56,20.1],
[118.26,20.12,118.33,20.06,118.25,20.01,118.19,20.06,118.26,20.12],
[118.76,20.4,118.57,20.37,118.57,20.2,118.66,20.01,118.7,19.57],
[117.85,19.69,118.11,19.71,118.28,19.45,118.22,19.38,118.04,19.43,117.83,19.6,117.85,19.69],
[117.69,19.54,117.93,19.31],
[118,19.32,117.98,19.22,118.24,19.02,118.25,19.1,118.13,19.24],
[118.44,19.32,118.48,19.36,118.66,19.43],
[117.76,19.2,117.89,19.02],
[118.33,19.21,118.39,19.15],
[117.67,19.76,117.69,19.69]];
const salLabels50 = [['34.2',117.98,20.77,32],['34.2',118.43,20.655,-50],['34',118.81,20.58,-70],['34',118.13,19.32,60]];

const salContours75 = [
[118.05,21.43,118.1,21.39,118.05,21.36,118.02,21.39,118.05,21.43],
[117.92,21.29,117.94,21.25,117.91,21.23,117.89,21.26,117.92,21.29],
[118.25,21.38,118.31,21.27,118.49,21.25,118.62,21.25],
[118.42,21.19,118.31,21.08,118.23,20.94,118.25,20.84,118.34,20.89,118.38,21.03],
[118.47,21.03,118.53,20.95,118.62,20.97,118.63,20.84,118.53,20.74,118.34,20.66,118.18,20.67,118.18,20.58,118.12,20.53,118.01,20.56,118,20.63,118.1,20.7,118.07,20.77],
[117.94,21.03,117.75,21.13,117.7,21.01,117.68,20.81,117.75,20.72,117.86,20.7],
[117.62,20.73,117.66,20.84,117.62,20.73],
[117.66,20.72,117.64,20.62,117.68,20.55,117.77,20.58,117.7,20.71,117.66,20.72],
[118.88,21.08,118.86,20.81,118.75,20.55,118.69,20.47],
[118.97,21.01,118.88,20.64,118.86,20.25],
[118.23,20.3,118.14,20.13,117.9,20.07,117.99,19.9],
[118.45,20.33,118.51,20.33,118.61,20.01,118.55,19.885,118.42,19.9,118.38,19.98,118.45,20.33],
[117.77,19.885,117.85,19.79,118.25,19.67,118.36,19.71,118.51,19.73,118.65,19.58,118.49,19.47,118.48,19.38,118.6,19.38],
[118.31,19.26,118.33,19.1],
[117.82,19.24,117.9,19.1,118.05,18.95]];
const salLabels75 = [['34.7',117.92,20.81,-85],['34.7',118.25,21.01,-75],['34.5',118.47,20.42,-25],['34.5',118.05,19.26,0]];

const salContours100 = [
[118.06,21.43,118.1,21.39,118.06,21.34,118.02,21.39,118.06,21.43],
[118.31,21.38,118.34,21.32,118.49,21.32,118.525,21.26,118.66,21.22],
[118.16,20.92,118.28,21.09,118.25,21.145,118.35,21.16,118.56,20.97,118.65,21.06,118.77,21.17,118.7,20.94,118.61,20.74],
[118.09,20.78,118.145,20.71,118.05,20.69,118.02,20.62,118.05,20.55,118.145,20.54],
[117.73,21.06,117.82,21,117.84,20.94,117.78,20.9],
[117.92,21.06,117.955,21.01,117.87,21.02,117.92,21.06],
[117.67,20.94,117.63,20.81,117.7,20.78,117.61,20.73],
[117.5,20.45,117.57,20.52,117.61,20.6,117.7,20.54,117.78,20.54],
[118.37,20.405,118.23,20.24,118.13,20.13,117.87,20.11,117.87,20.07,118.02,19.9,118.145,19.78,118.3,19.62,118.46,19.53,118.47,19.47,118.38,19.41,118.56,19.36,118.68,19.45],
[118.97,21.07,118.9,20.79,118.81,20.52],
[118.32,19.71,118.47,19.72,118.5,19.63,118.32,19.71],
[117.69,19.57,117.92,19.42,117.99,19.29,118.16,19.23,118.37,19.2,118.46,19.24]];
const salLabels100 = [['34.9',117.81,20.73,-85],['34.9',118.34,20.665,-20],['34.7',118.58,20.37,-15]];

const salContours150 = [
[118.99,20.76,118.95,20.665],
[118.93,20.58,118.89,20.4,118.8,20.24,118.65,20.085],
[117.62,19.78,117.735,19.73,117.8,19.56,117.92,19.43,118.03,19.44,118.01,19.51,117.87,19.61,117.88,19.695,118.18,19.72,118.29,19.66,118.42,19.57,118.63,19.58,118.58,19.695,118.47,19.75],
[118.37,19.525,118.27,19.46,118.3,19.375,118.58,19.4,118.68,19.49],
[118.37,19.525,118.42,19.41,118.58,19.4]];
const salLabels150 = [['34.7',118.49,19.87,-60]];

const salContours200 = [
[118.15,20.9,118.31,21.11,118.37,21.1,118.43,20.985,118.45,20.89,118.42,20.82,118.32,20.71,118.25,20.7,118.15,20.76],
[117.68,20.9,117.69,20.84]];
const salLabels200 = [];

const salContours300 = [
[119.035,21.04,118.93,20.79],
[118.71,20.18,118.75,19.58],
[117.67,20.88,117.68,20.86]];
const salLabels300 = [['34.4',118.83,20.5,-85]];

// ---------- drawing ----------
const SVGNS = 'http://www.w3.org/2000/svg';
const root = document.getElementById('figure');
function el(tag, attrs, parent){
  const n = document.createElementNS(SVGNS, tag);
  for(const k in attrs) n.setAttribute(k, attrs[k]);
  parent.appendChild(n);
  return n;
}
const LON0 = 117, LON1 = 119.5;
const tempRange = [11, 31];
const salRange = [33.6, 34.9];
const INK = '#262626';

function hexRgb(h){return [parseInt(h.slice(1,3),16),parseInt(h.slice(3,5),16),parseInt(h.slice(5,7),16)];}
const colormapRgb = colormapColors.map(hexRgb);
function colorAt(t){
  t = Math.max(0, Math.min(1, t));
  let i = 0;
  while(i < colormapPositions.length - 2 && t > colormapPositions[i+1]) i++;
  const f = (t - colormapPositions[i]) / (colormapPositions[i+1] - colormapPositions[i]);
  const a = colormapRgb[i], b = colormapRgb[i+1];
  return 'rgb(' + Math.round(a[0]+(b[0]-a[0])*f) + ',' + Math.round(a[1]+(b[1]-a[1])*f) + ',' + Math.round(a[2]+(b[2]-a[2])*f) + ')';
}
function fieldValue(field, spots, lon, lat){
  const fx = Math.max(0, Math.min(fieldLons.length - 1.001, (lon - fieldLons[0]) / (fieldLons[1] - fieldLons[0])));
  const fy = Math.max(0, Math.min(fieldLats.length - 1.001, (fieldLats[0] - lat) / (fieldLats[0] - fieldLats[1])));
  const ix = Math.floor(fx), iy = Math.floor(fy), dx = fx - ix, dy = fy - iy;
  let v = field[iy][ix]*(1-dx)*(1-dy) + field[iy][ix+1]*dx*(1-dy) + field[iy+1][ix]*(1-dx)*dy + field[iy+1][ix+1]*dx*dy;
  for(const s of spots){
    const r = Math.pow((lon-s[0])/s[2],2) + Math.pow((lat-s[1])/s[3],2);
    if(r < 1) v += (s[4]-v)*(1-r);
  }
  return v;
}
function smoothPath(pts){
  const n = pts.length;
  const closed = n > 2 && pts[0][0] === pts[n-1][0] && pts[0][1] === pts[n-1][1];
  const at = i => closed ? pts[((i % (n-1)) + (n-1)) % (n-1)] : pts[Math.max(0, Math.min(n-1, i))];
  let d = 'M' + pts[0][0].toFixed(1) + ' ' + pts[0][1].toFixed(1);
  for(let i = 0; i < n-1; i++){
    const a = at(i-1), b = at(i), c = at(i+1), e = at(i+2);
    d += 'C' + (b[0]+(c[0]-a[0])/8).toFixed(1) + ' ' + (b[1]+(c[1]-a[1])/8).toFixed(1) + ' ' + (c[0]-(e[0]-b[0])/8).toFixed(1) + ' ' + (c[1]-(e[1]-b[1])/8).toFixed(1) + ' ' + c[0].toFixed(1) + ' ' + c[1].toFixed(1);
  }
  return d;
}
function drawPanel(p){
  const w = p.x1 - p.x0, h = p.y1 - p.y0;
  const X = lon => p.x0 + (lon - LON0) / (LON1 - LON0) * w;
  const Y = lat => p.yA + (21.5 - lat) / 2.5 * (p.yB - p.yA);
  const g = el('g', {}, root);
  
  

  const title = el('text', {x:(p.x0+p.x1)/2, y:p.y0-19, 'text-anchor':'middle', 'font-size':52, fill:'#111'}, g);
  
  
  title.textContent = p.title;

  for(const lon of xTicks){
    const gl = el('line', {x1:X(lon), x2:X(lon), y1:p.y0, y2:p.y1, stroke:'#dadada', 'stroke-width':2.5}, g);
    
    
  }
  for(const lat of yTicks){
    const gl = el('line', {x1:p.x0, x2:p.x1, y1:Y(lat), y2:Y(lat), stroke:'#dcdcdc', 'stroke-width':3.5}, g);
    
    
  }

  const cells = el('g', {'shape-rendering':'crispEdges'}, g);
  
  
  const SUB = 2, STEP = 1/16/SUB;
  p.mask.forEach((row, j) => {
    for(let q = 0; q < SUB; q++){
      const latTop = 21.45 - j/16 - q*STEP;
      const yA = Math.round(Y(latTop)), yB = Math.round(Y(latTop - STEP));
      for(let i = row[0]*SUB; i < row[1]*SUB; i++){
        const lonL = 117.5 + i*STEP;
        const xA = Math.round(X(lonL)), xB = Math.round(X(lonL + STEP));
        const v = fieldValue(p.field, p.spots, lonL + STEP/2, latTop - STEP/2);
        const c = el('rect', {x:xA, y:yA, width:xB-xA, height:yB-yA, fill:colorAt((v-p.range[0])/(p.range[1]-p.range[0]))}, cells);
        
        
      }
    }
  });

  p.contours.forEach(tr => {
    const pts = [];
    for(let i = 0; i < tr.length; i += 2) pts.push([X(tr[i]), Y(tr[i+1])]);
    const c = el('path', {d:smoothPath(pts), fill:'none', stroke:'#0a0a0a', 'stroke-width':2.6, 'stroke-linejoin':'round', 'stroke-linecap':'round'}, g);
    
    
  });
  p.labels.forEach(l => {
    const t = el('text', {transform:'translate(' + X(l[1]).toFixed(1) + ' ' + Y(l[2]).toFixed(1) + ') rotate(' + l[3] + ')', 'text-anchor':'middle', 'dominant-baseline':'central', 'font-size':58, fill:'#000'}, g);
    
    
    t.textContent = l[0];
  });

  // closed Catmull-Rom through the boundary trace
  const n = boundaryLons.length;
  const P = i => [X(boundaryLons[(i+n)%n]), Y(boundaryLats[(i+n)%n])];
  let d = 'M' + P(0)[0].toFixed(1) + ' ' + P(0)[1].toFixed(1);
  for(let i = 0; i < n; i++){
    const a = P(i-1), b = P(i), c = P(i+1), e = P(i+2);
    d += 'C' + (b[0]+(c[0]-a[0])/6).toFixed(1) + ' ' + (b[1]+(c[1]-a[1])/6).toFixed(1) + ' ' + (c[0]-(e[0]-b[0])/6).toFixed(1) + ' ' + (c[1]-(e[1]-b[1])/6).toFixed(1) + ' ' + c[0].toFixed(1) + ' ' + c[1].toFixed(1);
  }
  const boundary = el('path', {d:d + 'Z', fill:'none', stroke:'#ff0000', 'stroke-width':6.5}, g);
  
  

  const dot = el('circle', {cx:X(stationLon), cy:Y(stationLat), r:16, fill:'#ff0000', stroke:'#111', 'stroke-width':2}, g);
  
  

  for(const lon of xTicks){
    for(const pair of [[p.y0, p.y0+5],[p.y1, p.y1-5]]){
      const t = el('line', {x1:X(lon), x2:X(lon), y1:pair[0], y2:pair[1], stroke:INK, 'stroke-width':3}, g);
      
      
    }
    if(p.showX){
      const t = el('text', {transform:'translate(' + (X(lon)+18) + ' ' + (p.y1+70) + ') rotate(-30)', 'text-anchor':'end', 'font-size':50, fill:INK}, g);
      
      
      t.textContent = String(lon);
    }
  }
  for(const lat of yTicks){
    for(const pair of [[p.x0, p.x0+8],[p.x1, p.x1-8]]){
      const t = el('line', {x1:pair[0], x2:pair[1], y1:Y(lat), y2:Y(lat), stroke:INK, 'stroke-width':3}, g);
      
      
    }
    if(p.showY){
      const t = el('text', {x:p.x0-13, y:Y(lat)+21, 'text-anchor':'end', 'font-size':50, fill:INK}, g);
      
      
      t.textContent = String(lat);
    }
  }
  const box = el('rect', {x:p.x0, y:p.y0, width:w, height:h, fill:'none', stroke:INK, 'stroke-width':3}, g);
  
  
}
function drawColorbar(c){
  const g = el('g', {}, root);
  
  
  const Y = v => c.y1 - (v - c.lo) / (c.hi - c.lo) * (c.y1 - c.y0);
  for(let y = c.y0; y < c.y1; y += 2){
    const v = c.lo + (c.y1 - y - 1) / (c.y1 - c.y0) * (c.hi - c.lo);
    const s = el('rect', {x:c.x0, y:y, width:c.x1-c.x0, height:2.5, fill:colorAt((v-c.range[0])/(c.range[1]-c.range[0]))}, g);
    
    
  }
  c.ticks.forEach((v, i) => {
    const t = el('line', {x1:c.x1-8, x2:c.x1, y1:Y(v), y2:Y(v), stroke:INK, 'stroke-width':3}, g);
    
    
    const l = el('text', {x:c.x1+20, y:Y(v)+21, 'font-size':46, fill:INK}, g);
    
    
    l.textContent = c.labels[i];
  });
  const box = el('rect', {x:c.x0, y:c.y0, width:c.x1-c.x0, height:c.y1-c.y0, fill:'none', stroke:INK, 'stroke-width':3}, g);
  
  
}

const tempCols = [[241,910],[995,1665],[1749,2418],[2499,3169]];
const salCols = [[249,907],[995,1653],[1737,2395],[2480,3138]];
// axes top, axes bottom, pixel of 21.5N, pixel of 19N
const tempRows = [[88,916,190,842],[1068,1893,1170.4,1819]];
const salRows = [[2382,3211,2486,3137],[3364,4188,3465.5,4114]];
const tempFields = [tempField15,tempField30,tempField50,tempField75,tempField100,tempField150,tempField200,tempField300];
const salFields = [salField15,salField30,salField50,salField75,salField100,salField150,salField200,salField300];
const tempContourSets = [tempContours15,tempContours30,tempContours50,tempContours75,tempContours100,tempContours150,tempContours200,tempContours300];
const salContourSets = [salContours15,salContours30,salContours50,salContours75,salContours100,salContours150,salContours200,salContours300];
const tempLabelSets = [tempLabels15,tempLabels30,tempLabels50,tempLabels75,tempLabels100,tempLabels150,tempLabels200,tempLabels300];
const salLabelSets = [salLabels15,salLabels30,salLabels50,salLabels75,salLabels100,salLabels150,salLabels200,salLabels300];
const salSpotSets = [salSpots15,salSpots30,salSpots50,noSpots,noSpots,noSpots,noSpots,noSpots];

for(let k = 0; k < 8; k++){
  const col = k % 4, row = k < 4 ? 0 : 1;
  drawPanel({id:'temperature-' + depthLabels[k], title:depthLabels[k], x0:tempCols[col][0], x1:tempCols[col][1], y0:tempRows[row][0], y1:tempRows[row][1], yA:tempRows[row][2], yB:tempRows[row][3],
    field:tempFields[k], spots:noSpots, contours:tempContourSets[k], labels:tempLabelSets[k], range:tempRange,
    mask:k === 0 ? maskRowsShallow : maskRows, showX:row === 1, showY:col === 0});
  drawPanel({id:'salinity-' + depthLabels[k], title:depthLabels[k], x0:salCols[col][0], x1:salCols[col][1], y0:salRows[row][0], y1:salRows[row][1], yA:salRows[row][2], yB:salRows[row][3],
    field:salFields[k], spots:salSpotSets[k], contours:salContourSets[k], labels:salLabelSets[k], range:salRange,
    mask:k === 0 ? maskRowsShallow : maskRows, showX:row === 1, showY:col === 0});
}
drawColorbar({name:'temperature-colorbar-upper', x0:3216, x1:3286, y0:88, y1:918, lo:11.05, hi:31.03, range:tempRange, ticks:tempCbarTicks, labels:tempCbarLabels});
drawColorbar({name:'temperature-colorbar-lower', x0:3216, x1:3286, y0:1068, y1:1897, lo:11.05, hi:31.03, range:tempRange, ticks:tempCbarTicks, labels:tempCbarLabels});
drawColorbar({name:'salinity-colorbar-upper', x0:3186, x1:3255, y0:2382, y1:3214, lo:33.598, hi:34.903, range:salRange, ticks:salCbarTicks, labels:salCbarLabels});
drawColorbar({name:'salinity-colorbar-lower', x0:3186, x1:3255, y0:3364, y1:4196, lo:33.598, hi:34.903, range:salRange, ticks:salCbarTicks, labels:salCbarLabels});
</script>
</body>
</html>
